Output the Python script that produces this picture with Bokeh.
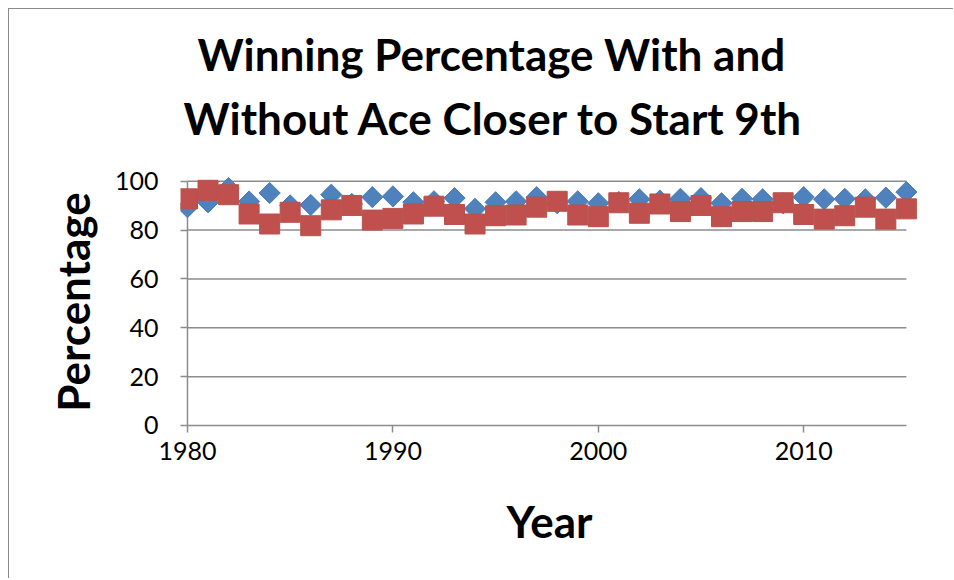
import numpy as np
from bokeh.plotting import figure
from bokeh.models import Range1d, FixedTicker, Title
from bokeh.embed import file_html
from bokeh.resources import INLINE

# ---- data ----
years = list(range(1980, 2016))
with_ace = [89.4, 91.4, 97.2, 91.7, 95.2, 90.1, 90.3, 94.5, 90.7, 93.5,
            93.8, 91.4, 91.8, 93.1, 88.7, 91.4, 91.8, 93.5, 91.0, 91.8,
            91.0, 91.5, 92.6, 92.1, 92.8, 93.1, 91.0, 92.8, 92.6, 91.0,
            93.5, 92.6, 92.8, 92.6, 93.3, 95.6]
without_ace = [92.8, 96.3, 94.5, 86.6, 82.5, 87.3, 81.8, 88.3, 90.1, 84.1,
               84.8, 86.6, 89.8, 86.4, 82.5, 85.9, 86.2, 89.4, 91.8, 86.2,
               85.5, 91.2, 86.9, 90.7, 87.6, 90.1, 85.5, 87.6, 87.6, 91.2,
               86.4, 84.5, 85.9, 89.4, 84.5, 88.7]
y_ticks = [0, 20, 40, 60, 80, 100]
x_ticks = [1980, 1990, 2000, 2010]
title_lines = ["Winning Percentage With and", "Without Ace Closer to Start 9th"]
x_title = "Year"
y_title = "Percentage"

FONT = "Lato"
GRAY = "#8c8c8c"

p = figure(frame_width=738, frame_height=261,
           min_border_left=171, min_border_right=35,
           min_border_top=162, min_border_bottom=146,
           x_range=Range1d(1979.66, 2015.59), y_range=Range1d(-2.87, 104),
           output_backend="svg", toolbar_location=None)
p.styles = {"margin-left": "8px", "margin-top": "8px",
            "border-left": "1px solid #8a8a8a", "border-top": "1px solid #8a8a8a",
            "border-right": "none", "border-bottom": "none",
            "outline": "none", "box-shadow": "none"}
p.outline_line_color = None
p.xgrid.visible = False
p.ygrid.visible = False
p.background_fill_color = "white"
p.border_fill_color = "white"

# gridlines and axis lines, from the tick values and the year range
gy = [t for t in y_ticks if t > 0]
p.segment(x0=[years[0]] * len(gy), x1=[years[-1]] * len(gy), y0=gy, y1=gy,
          line_color=GRAY, line_width=1.5)
p.segment(x0=[years[0], years[0]], x1=[years[-1], years[0]],
          y0=[y_ticks[0], y_ticks[0]], y1=[y_ticks[0], y_ticks[-1]],
          line_color=GRAY, line_width=1.5)

for ax in (p.xaxis[0], p.yaxis[0]):
    ax.axis_label_text_font = FONT
    ax.axis_label_text_font_style = "bold"
    ax.axis_label_text_font_size = "44px"
    ax.axis_label_text_color = "black"
    ax.major_label_text_font = FONT
    ax.major_label_text_font_size = "25px"
    ax.major_label_text_color = "black"
    ax.axis_line_color = None
    ax.major_tick_line_color = GRAY
    ax.major_tick_line_width = 1.5
    ax.major_tick_in = 7
    ax.major_tick_out = 0
    ax.minor_tick_line_color = None

p.xaxis.ticker = FixedTicker(ticks=x_ticks)
p.xaxis.axis_label = x_title
p.xaxis.axis_label_standoff = 32
p.xaxis.major_label_standoff = 9

p.yaxis.ticker = FixedTicker(ticks=y_ticks)
p.yaxis.axis_label = y_title
p.yaxis.axis_label_standoff = 13
p.yaxis.major_label_standoff = 22
p.yaxis.major_label_orientation = "horizontal"

# series
p.scatter(years, with_ace, marker="square", angle=np.pi / 4, size=15,
          fill_color="#4F81BD", line_color="#4A7EBB", line_width=1)
p.scatter(years, without_ace, marker="square", size=20,
          fill_color="#C0504D", line_color="#B9504C", line_width=1)

# title (two lines), second line nearest the plot
p.title = None
p.add_layout(Title(text=title_lines[1], align="left", offset=3,
                   standoff=55, text_font=FONT, text_font_style="bold",
                   text_font_size="44px", text_color="black"), "above")
p.add_layout(Title(text=title_lines[0], align="left", offset=17,
                   standoff=-35, text_font=FONT, text_font_style="bold",
                   text_font_size="44px", text_color="black"), "above")

open("out.html", "w").write(file_html(p, INLINE))
